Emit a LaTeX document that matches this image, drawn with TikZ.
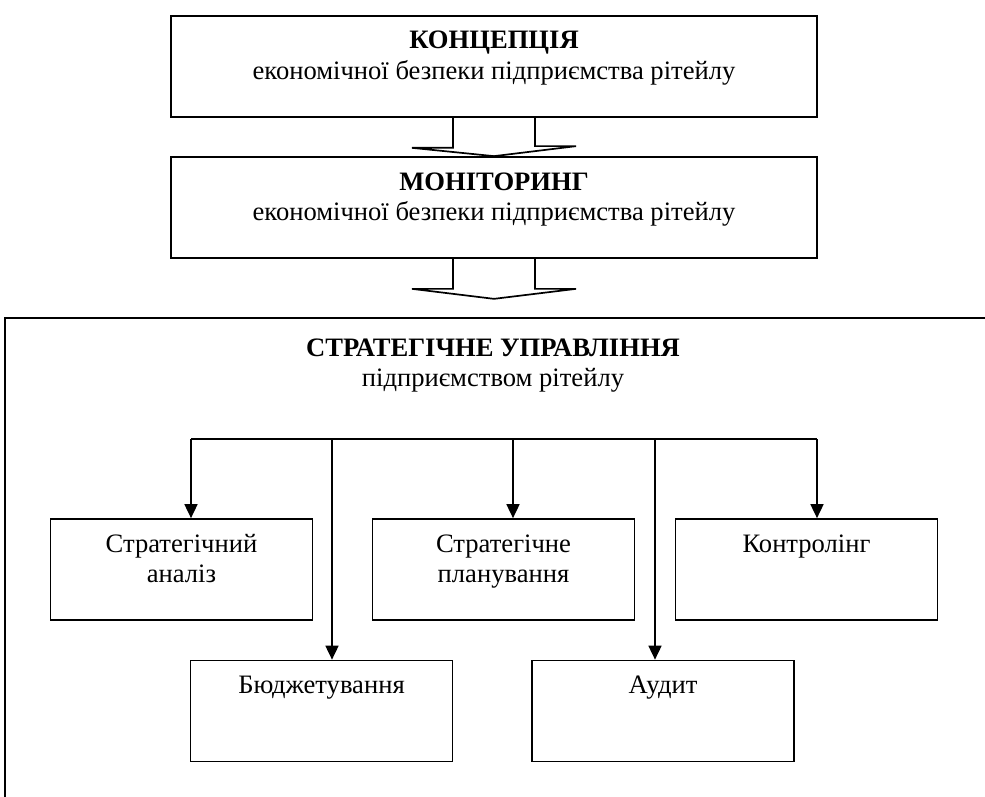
\documentclass[tikz,border=0pt]{standalone}
\usepackage{fontspec}
\setmainfont{Liberation Serif}
\usetikzlibrary{calc,arrows.meta}

\begin{document}
\begin{tikzpicture}[x=1pt,y=-1pt,
    font=\fontsize{26.6}{30.5}\selectfont,
    headbox/.style={draw,line width=1.7pt,inner sep=0pt,minimum width=646pt,minimum height=101pt},
    stepbox/.style={draw,line width=1.7pt,inner sep=0pt,minimum width=262pt,minimum height=101pt},
    fatarrow/.style={draw,line width=1.7pt,line join=miter},
    link/.style={line width=1.7pt,-{Triangle[length=14pt,width=13pt]}}]

    \newcommand*{\boxtext}[2]{\parbox[c][101pt][t]{#1}{\centering\rule{0pt}{33pt}#2}}%

    \useasboundingbox (0,0) rectangle (985,797);

    % upper blocks
    \node[headbox] (concept) at (494,66.5)
        {\boxtext{640pt}{\textbf{КОНЦЕПЦІЯ}\\економічної безпеки підприємства рітейлу}};
    \node[headbox] (monitor) at (494,207.5)
        {\boxtext{640pt}{\textbf{МОНІТОРИНГ}\\економічної безпеки підприємства рітейлу}};

    % block arrows
    \draw[fatarrow] ($(concept.south)+(-41,0)$) -- ++(0,30) -- ++(-41,0)
        -- (monitor.north) -- ++(82,-10) -- ++(-41,0) -- ++(0,-30);
    \coordinate (tip) at ($(monitor.south)+(0,40)$);
    \draw[fatarrow] ($(monitor.south)+(-41,0)$) -- ++(0,30) -- ++(-41,0)
        -- (tip) -- ++(82,-10) -- ++(-41,0) -- ++(0,-30);

    % frame of strategic management
    \draw[line width=1.7pt] (5,800) |- (990,318);
    \node[inner sep=0pt,anchor=north] (strat) at (493,318)
        {\parbox[t]{600pt}{\centering\rule{0pt}{38pt}\textbf{СТРАТЕГІЧНЕ УПРАВЛІННЯ}\\підприємством рітейлу}};

    % stages
    \node[stepbox] (analysis) at (181.5,569.5) {\boxtext{256pt}{Стратегічний\\аналіз}};
    \node[stepbox] (planning) at (503.5,569.5) {\boxtext{256pt}{Стратегічне\\планування}};
    \node[stepbox] (control)  at (806.5,569.5) {\boxtext{256pt}{Контролінг}};
    \node[stepbox] (budget)   at (321.5,711)   {\boxtext{256pt}{Бюджетування}};
    \node[stepbox] (audit)    at (663,711)     {\boxtext{256pt}{Аудит}};

    % distribution line
    \foreach \name/\xx in {analysis/191,budget/332,planning/513,audit/655,control/817}
    {
        \coordinate (b-\name) at (\xx,439);
        \draw[link] (b-\name) -- (b-\name |- \name.north);
    }
    \draw[line width=1.7pt] (b-analysis) -- (b-control);

\end{tikzpicture}
\end{document}
